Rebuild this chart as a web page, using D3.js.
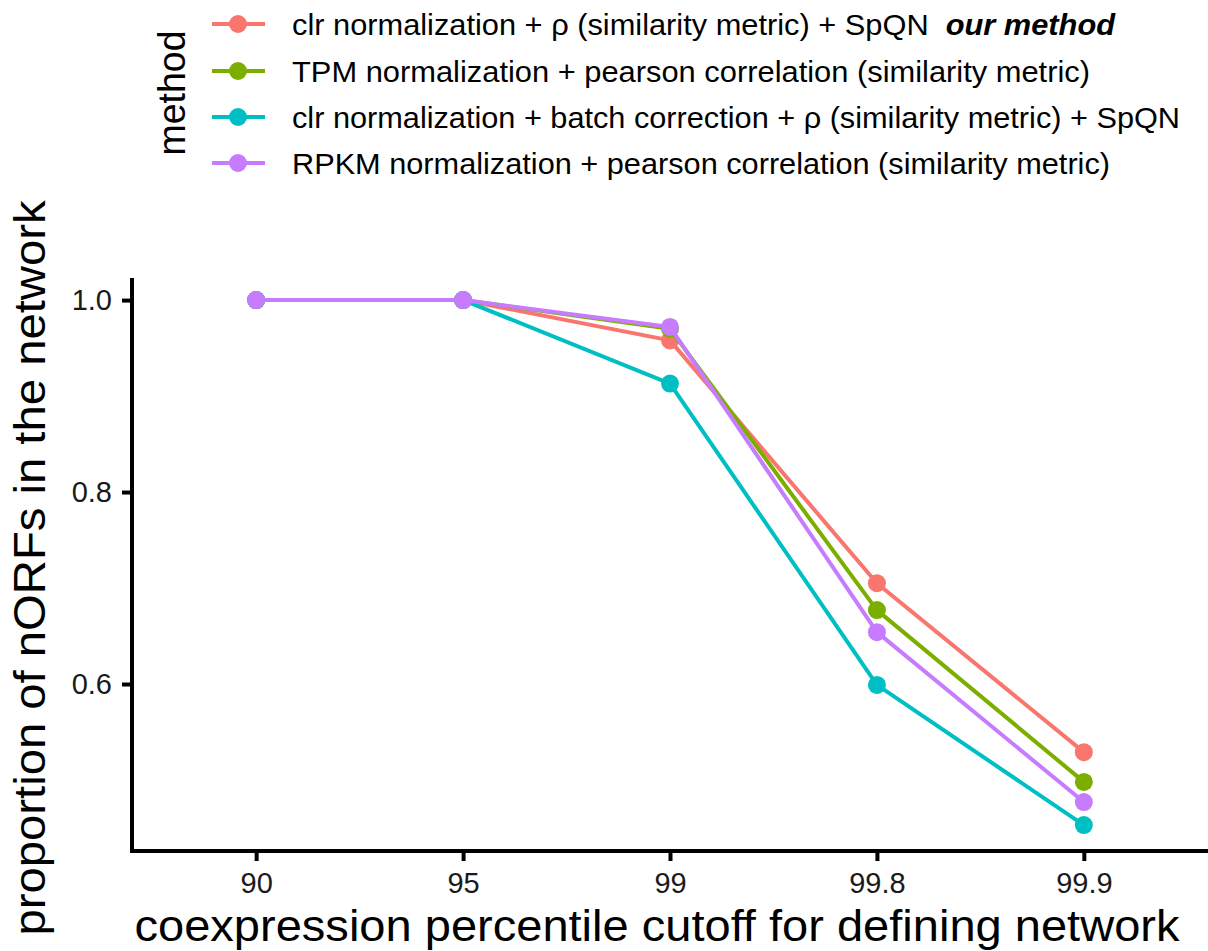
<!DOCTYPE html>
<html>
<head>
<meta charset="utf-8">
<script src="https://cdn.jsdelivr.net/npm/d3@7"></script>
<style>
  html, body { margin: 0; padding: 0; background: #fff; }
  svg { display: block; }
  text { font-family: "Liberation Sans", Arial, sans-serif; }
  .axis text { font-size: 29px; fill: #1a1a1a; }
</style>
</head>
<body>
<svg id="chart" width="1208" height="951"></svg>
<script>
// ---- data ----
const cutoffs = ["90", "95", "99", "99.8", "99.9"];
const methodNames = [
  "clr normalization + \u03c1 (similarity metric) + SpQN",
  "TPM normalization + pearson correlation (similarity metric)",
  "clr normalization + batch correction + \u03c1 (similarity metric) + SpQN",
  "RPKM normalization + pearson correlation (similarity metric)"
];
const methodColors = ["#F8766D", "#7CAE00", "#00BFC4", "#C77CFF"];
const clrSpqn     = [1.0, 1.0, 0.958, 0.705, 0.529];
const tpmPearson  = [1.0, 1.0, 0.970, 0.677, 0.498];
const clrBatch    = [1.0, 1.0, 0.913, 0.599, 0.453];
const rpkmPearson = [1.0, 1.0, 0.972, 0.654, 0.477];
const yTicks = [0.6, 0.8, 1.0];
const seriesValues = [clrSpqn, tpmPearson, clrBatch, rpkmPearson];

const svg = d3.select("#chart");

const x = d3.scalePoint().domain(cutoffs).range([132, 1208]).padding(0.6);
const y = d3.scaleLinear().domain([0.426, 1.023]).range([851, 278]);

// axes
const xAxis = svg.append("g").attr("class", "axis").attr("transform", "translate(0,851)")
  .call(d3.axisBottom(x).tickSizeOuter(0).tickSize(10).tickPadding(11));
const yAxis = svg.append("g").attr("class", "axis").attr("transform", "translate(132,0)")
  .call(d3.axisLeft(y).tickValues(yTicks).tickFormat(d3.format(".1f")).tickSizeOuter(0).tickSize(10).tickPadding(10));
[xAxis, yAxis].forEach(g => {
  g.attr("font-size", 29).attr("font-family", "'Liberation Sans', Arial, sans-serif");
  g.select(".domain").attr("stroke", "#000").attr("stroke-width", 4);
  g.selectAll(".tick line").attr("stroke", "#000").attr("stroke-width", 4);
  g.selectAll(".tick text").attr("fill", "#1a1a1a").attr("font-size", 29);
});
xAxis.select(".domain").attr("d", "M130,0H1208");
yAxis.select(".domain").attr("d", "M0,278V853");

// lines + points
const line = d3.line().x((d, i) => x(cutoffs[i])).y(d => y(d));
seriesValues.forEach((vals, s) => {
  svg.append("path").datum(vals)
    .attr("d", line).attr("fill", "none")
    .attr("stroke", methodColors[s]).attr("stroke-width", 4)
    .attr("stroke-linejoin", "round");
  svg.append("g").selectAll("circle").data(vals).join("circle")
    .attr("cx", (d, i) => x(cutoffs[i])).attr("cy", d => y(d))
    .attr("r", 9).attr("fill", methodColors[s]);
});

// axis titles
svg.append("text").attr("x", 657).attr("y", 941).attr("text-anchor", "middle")
  .style("font-size", "45px").attr("fill", "#000")
  .attr("textLength", 1045).attr("lengthAdjust", "spacingAndGlyphs")
  .text("coexpression percentile cutoff for defining network");
svg.append("text").attr("transform", "translate(45,568) rotate(-90)")
  .attr("text-anchor", "middle").style("font-size", "45px").attr("fill", "#000")
  .attr("textLength", 735).attr("lengthAdjust", "spacingAndGlyphs")
  .text("proportion of nORFs in the network");

// legend
svg.append("text").attr("transform", "translate(185,93) rotate(-90)")
  .attr("text-anchor", "middle").style("font-size", "39px").attr("fill", "#000")
  .attr("textLength", 125).attr("lengthAdjust", "spacingAndGlyphs")
  .text("method");
const legendY = [24, 71, 117, 163];
const legendRight = [1115, 1090, 1180, 1110];
methodNames.forEach((name, i) => {
  const g = svg.append("g").attr("transform", `translate(0,${legendY[i]})`);
  g.append("line").attr("x1", 212).attr("x2", 265).attr("y1", 0).attr("y2", 0)
    .attr("stroke", methodColors[i]).attr("stroke-width", 4);
  g.append("circle").attr("cx", 238).attr("cy", 0).attr("r", 9).attr("fill", methodColors[i]);
  const t = g.append("text").attr("x", 292).attr("y", 11).style("font-size", "29px").attr("fill", "#000")
    .attr("textLength", legendRight[i] - 292).attr("lengthAdjust", "spacingAndGlyphs");
  if (i === 0) {
    t.append("tspan").text(name + "\u00a0\u00a0");
    t.append("tspan").style("font-weight", "bold").style("font-style", "italic").text("our method");
  } else {
    t.text(name);
  }
});
</script>
</body>
</html>
